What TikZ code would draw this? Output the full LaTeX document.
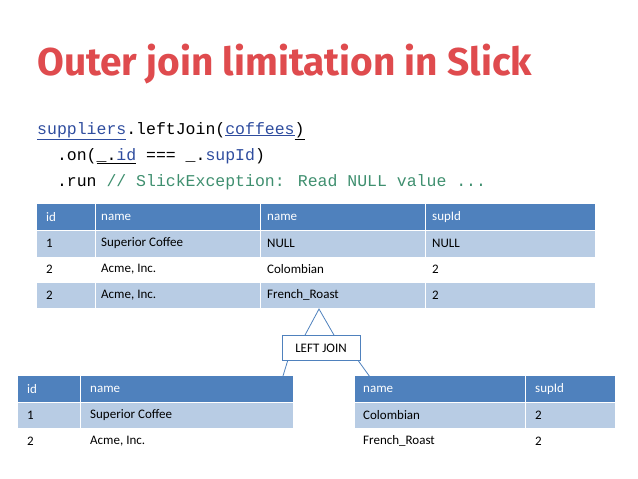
\documentclass[tikz,border=0pt]{standalone}
\usepackage{fontspec}
\setmainfont{Carlito}
\newfontfamily\codefont{Liberation Mono}
\newfontfamily\titlefont{Fira Sans}
\usepackage{graphicx}
\definecolor{hdr}{HTML}{4F81BD}
\definecolor{rowA}{HTML}{B8CCE4}
\definecolor{rowB}{HTML}{FFFFFF}
\definecolor{ttl}{HTML}{DF4B4E}
\definecolor{codeblue}{HTML}{2E4C9E}
\definecolor{codegreen}{HTML}{3F8F6F}
\tikzset{
  cell/.style={anchor=west,font=\fontsize{13}{15}\selectfont,inner sep=0pt},
  hcell/.style={cell,text=white},
  jbox/.style={draw=hdr,line width=0.8pt,fill=white,minimum width=78pt,minimum height=25pt,inner sep=0pt,font=\fontsize{13}{15}\selectfont},
  link/.style={draw=hdr,line width=0.8pt},
}
\begin{document}
\begin{tikzpicture}[x=1pt,y=-1pt]
\useasboundingbox (0,0) rectangle (638,479);
% title
\node[anchor=north west,inner sep=0pt,text=ttl] (title) at (37,44) {\resizebox{495pt}{!}{\titlefont\bfseries Outer join limitation in Slick}};
% code
\node[anchor=base west,inner sep=0pt,font=\codefont\fontsize{16.5}{18}\selectfont] (c1) at (37,134) {\textcolor{codeblue}{\underline{suppliers}}.leftJoin(\textcolor{codeblue}{\underline{coffees}}\underline{)}};
\node[anchor=base west,inner sep=0pt,font=\codefont\fontsize{16.5}{18}\selectfont] (c2) at (37,160) {\ \ .on(\underline{\_.\textcolor{codeblue}{id}} === \_.\textcolor{codeblue}{supId})};
\node[anchor=base west,inner sep=0pt,font=\codefont\fontsize{16.5}{18}\selectfont] (c3) at (37,186) {\ \ .run \textcolor{codegreen}{// SlickException: Read NULL value ...}};
% top table
\fill[hdr] (37,204) rectangle (595,230);
\fill[rowA] (37,230) rectangle (595,257);
\fill[rowB] (37,257) rectangle (595,282);
\fill[rowA] (37,282) rectangle (595,308);
\draw[white,line width=0.8pt] (37,230)--(595,230) (37,257)--(595,257) (37,282)--(595,282);
\draw[white,line width=0.8pt] (95,204)--(95,308) (260,204)--(260,308) (425,204)--(425,308);
\node[hcell] (t00) at (46,217) {id};
\node[hcell] (t01) at (101,217) {name};
\node[hcell] (t02) at (267,217) {name};
\node[hcell] (t03) at (432,217) {supId};
\node[cell] (t10) at (46,243) {1};
\node[cell] (t11) at (101,243) {Superior Coffee};
\node[cell] (t12) at (267,243) {NULL};
\node[cell] (t13) at (432,243) {NULL};
\node[cell] (t20) at (46,269) {2};
\node[cell] (t21) at (101,269) {Acme, Inc.};
\node[cell] (t22) at (267,269) {Colombian};
\node[cell] (t23) at (432,269) {2};
\node[cell] (t30) at (46,295) {2};
\node[cell] (t31) at (101,295) {Acme, Inc.};
\node[cell] (t32) at (267,295) {French\_Roast};
\node[cell] (t33) at (432,295) {2};
% bottom left table
\fill[hdr] (18,376) rectangle (293,402);
\fill[rowA] (18,402) rectangle (293,428);
\fill[rowB] (18,428) rectangle (293,454);
\draw[white,line width=0.8pt] (18,402)--(293,402) (18,428)--(293,428) (80,376)--(80,454);
\node[hcell] (l00) at (27,389) {id};
\node[hcell] (l01) at (90,389) {name};
\node[cell] (l10) at (27,415) {1};
\node[cell] (l11) at (90,415) {Superior Coffee};
\node[cell] (l20) at (27,441) {2};
\node[cell] (l21) at (90,441) {Acme, Inc.};
% bottom right table
\fill[hdr] (355,376) rectangle (615,402);
\fill[rowA] (355,402) rectangle (615,428);
\fill[rowB] (355,428) rectangle (615,454);
\draw[white,line width=0.8pt] (355,402)--(615,402) (355,428)--(615,428) (525,376)--(525,454);
\node[hcell] (r00) at (363,389) {name};
\node[hcell] (r01) at (535,389) {supId};
\node[cell] (r10) at (363,415) {Colombian};
\node[cell] (r11) at (535,415) {2};
\node[cell] (r20) at (363,441) {French\_Roast};
\node[cell] (r21) at (535,441) {2};
% join
\coordinate (apex) at (319,309);
\coordinate (lend) at (283,376);
\coordinate (rend) at (370,377);
\node[jbox] (join) at (321,348) {LEFT JOIN};
\draw[link] ([xshift=-16pt]join.north) -- (apex) -- ([xshift=13pt]join.north);
\draw[link] ([xshift=6pt]join.south west) -- (lend);
\draw[link] ([xshift=-2pt]join.south east) -- (rend);
\end{tikzpicture}
\end{document}
